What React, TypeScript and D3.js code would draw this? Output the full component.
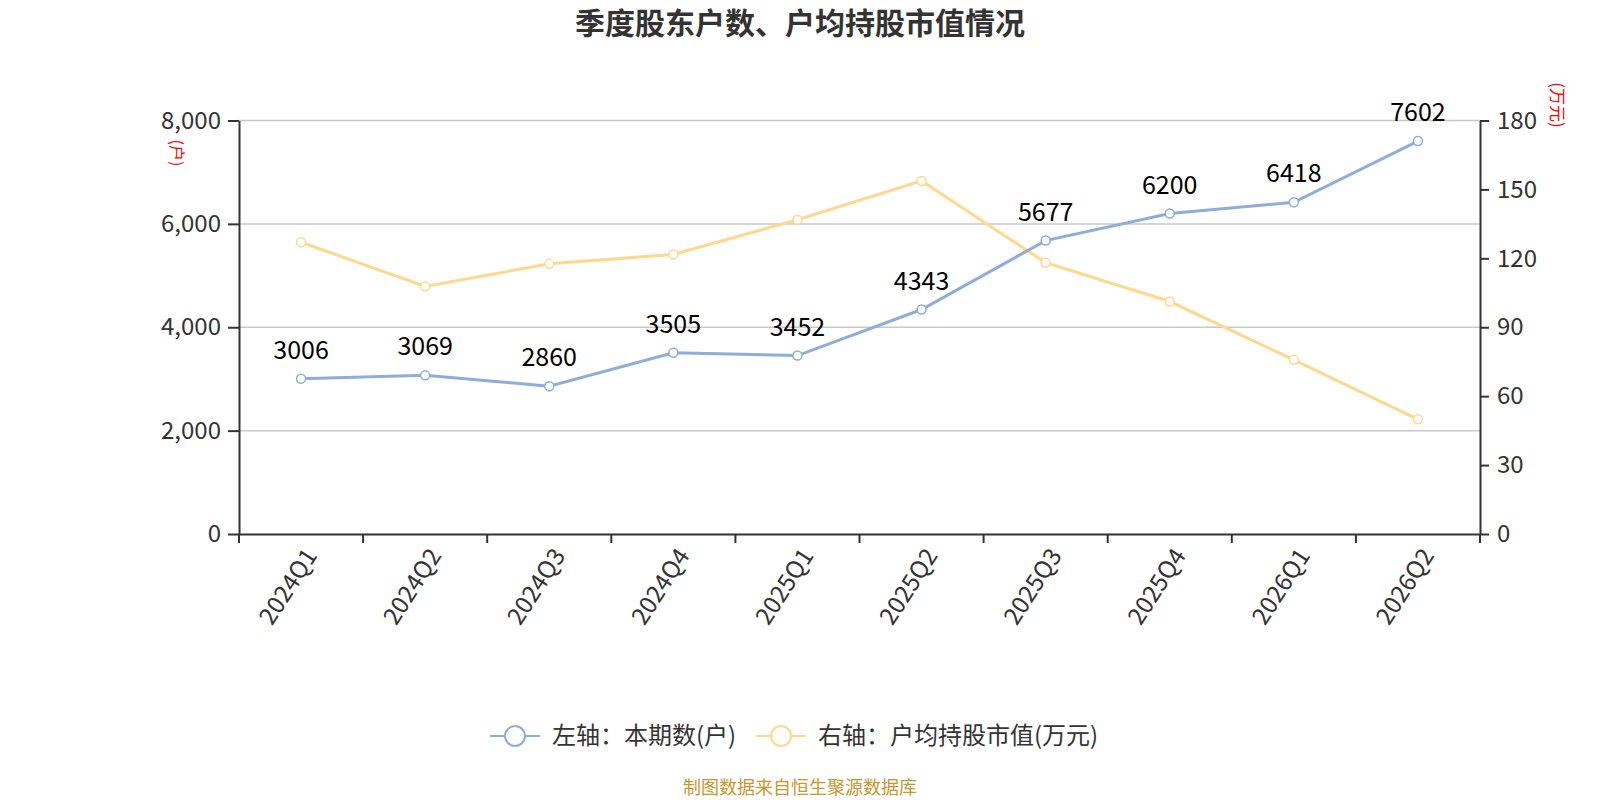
import React, { useEffect, useRef } from 'react';
import * as d3 from 'd3';

const quarters = ['2024Q1', '2024Q2', '2024Q3', '2024Q4', '2025Q1', '2025Q2', '2025Q3', '2025Q4', '2026Q1', '2026Q2'];
const holders = [3006, 3069, 2860, 3505, 3452, 4343, 5677, 6200, 6418, 7602];
const avgValue = [127.0, 107.8, 117.6, 121.7, 136.8, 153.7, 118.1, 101.2, 75.8, 49.9];
const leftTicks = [0, 2000, 4000, 6000, 8000];
const rightTicks = [0, 30, 60, 90, 120, 150, 180];

const BLUE = '#8eaddb';
const YELLOW = '#ffd88e';
const FONT = '"Noto Sans CJK SC", "Noto Sans", sans-serif';

function Chart() {
  const svgRef = useRef(null);

  useEffect(() => {
    const svg = d3.select(svgRef.current);
    svg.selectAll('*').remove();

    const left = 239, right = 1480, top = 120.5, bottom = 534;

    const x = d3.scaleBand().domain(quarters).range([left, right]);
    const yL = d3.scaleLinear().domain([0, 8000]).range([bottom, top]);
    const yR = d3.scaleLinear().domain([0, 180]).range([bottom, top]);
    const cx = (d) => x(d) + x.bandwidth() / 2;

    // title
    svg.append('text')
      .attr('x', 800).attr('y', 34)
      .attr('text-anchor', 'middle')
      .attr('font-size', 30).attr('font-weight', 'bold')
      .attr('fill', '#333').attr('font-family', FONT)
      .text('季度股东户数、户均持股市值情况');

    // grid
    svg.append('g').selectAll('line').data(leftTicks.slice(1)).join('line')
      .attr('x1', left).attr('x2', right)
      .attr('y1', d => yL(d)).attr('y2', d => yL(d))
      .attr('stroke', '#c8c8c8').attr('stroke-width', 1.5);

    // left axis
    const gl = svg.append('g').attr('transform', `translate(${left},0)`)
      .call(d3.axisLeft(yL).tickValues(leftTicks).tickFormat(d3.format(',')).tickSize(11).tickSizeOuter(0));
    gl.select('.domain').attr('stroke', '#333').attr('stroke-width', 2);
    gl.selectAll('.tick line').attr('stroke', '#333').attr('stroke-width', 2);
    gl.selectAll('.tick text').attr('font-size', 24).attr('fill', '#333').attr('font-family', FONT).attr('dx', -4);

    // right axis
    const gr = svg.append('g').attr('transform', `translate(${right},0)`)
      .call(d3.axisRight(yR).tickValues(rightTicks).tickSize(9).tickSizeOuter(0));
    gr.select('.domain').attr('stroke', '#333').attr('stroke-width', 2);
    gr.selectAll('.tick line').attr('stroke', '#333').attr('stroke-width', 2);
    gr.selectAll('.tick text').attr('font-size', 24).attr('fill', '#333').attr('font-family', FONT).attr('dx', 5);

    // x axis
    const gx = svg.append('g').attr('transform', `translate(0,${bottom})`)
      .call(d3.axisBottom(x).tickSize(0));
    gx.select('.domain').attr('stroke', '#333').attr('stroke-width', 2);
    gx.selectAll('.tick line').remove();
    svg.append('g').selectAll('line').data(d3.range(quarters.length + 1)).join('line')
      .attr('x1', i => left + i * x.step()).attr('x2', i => left + i * x.step())
      .attr('y1', bottom).attr('y2', bottom + 9)
      .attr('stroke', '#333').attr('stroke-width', 2);
    gx.selectAll('.tick text')
      .attr('font-size', 24).attr('fill', '#333').attr('font-family', FONT)
      .attr('text-anchor', 'end')
      .attr('transform', 'translate(10,17) rotate(-57)')
      .attr('dy', '0.35em').attr('y', 0);

    // unit labels
    svg.append('text')
      .attr('transform', 'translate(171,153) rotate(90)')
      .attr('text-anchor', 'middle').attr('font-size', 16).attr('fill', 'red').attr('font-family', FONT)
      .text('(户)');
    svg.append('text')
      .attr('transform', 'translate(1551,105) rotate(90)')
      .attr('text-anchor', 'middle').attr('font-size', 17).attr('fill', 'red').attr('font-family', FONT)
      .text('(万元)');

    // lines
    const lineL = d3.line().x((d, i) => cx(quarters[i])).y(d => yL(d));
    const lineR = d3.line().x((d, i) => cx(quarters[i])).y(d => yR(d));

    svg.append('path').datum(avgValue).attr('d', lineR)
      .attr('fill', 'none').attr('stroke', YELLOW).attr('stroke-width', 3);
    svg.append('g').selectAll('circle').data(avgValue).join('circle')
      .attr('cx', (d, i) => cx(quarters[i])).attr('cy', d => yR(d)).attr('r', 4.5)
      .attr('fill', '#fff').attr('stroke', YELLOW).attr('stroke-width', 1.5);

    svg.append('path').datum(holders).attr('d', lineL)
      .attr('fill', 'none').attr('stroke', BLUE).attr('stroke-width', 3);
    svg.append('g').selectAll('circle').data(holders).join('circle')
      .attr('cx', (d, i) => cx(quarters[i])).attr('cy', d => yL(d)).attr('r', 4.5)
      .attr('fill', '#fff').attr('stroke', BLUE).attr('stroke-width', 1.5);

    svg.append('g').selectAll('text').data(holders).join('text')
      .attr('x', (d, i) => cx(quarters[i])).attr('y', d => yL(d) - 20)
      .attr('text-anchor', 'middle').attr('font-size', 25).attr('fill', '#000').attr('font-family', FONT)
      .text(d => d);

    // legend
    const legend = [
      { label: '左轴：本期数(户)', color: BLUE, x: 490 },
      { label: '右轴：户均持股市值(万元)', color: YELLOW, x: 756 },
    ];
    const lg = svg.append('g').selectAll('g').data(legend).join('g')
      .attr('transform', d => `translate(${d.x},736)`);
    lg.append('line').attr('x1', 0).attr('x2', 50).attr('y1', 0).attr('y2', 0)
      .attr('stroke', d => d.color).attr('stroke-width', 2);
    lg.append('circle').attr('cx', 25).attr('cy', 0).attr('r', 10)
      .attr('fill', '#fff').attr('stroke', d => d.color).attr('stroke-width', 2);
    lg.append('text').attr('x', 62).attr('y', 0).attr('dy', '0.35em')
      .attr('font-size', 24).attr('fill', '#333').attr('font-family', FONT)
      .text(d => d.label);

    // footer
    svg.append('text')
      .attr('x', 800).attr('y', 794)
      .attr('text-anchor', 'middle').attr('font-size', 18).attr('fill', '#c9962f').attr('font-family', FONT)
      .text('制图数据来自恒生聚源数据库');
  }, []);

  return <svg ref={svgRef} width={1600} height={800} xmlns="http://www.w3.org/2000/svg" />;
}

function App() {
  return (
    <div style={{ position: 'absolute', left: 0, top: 0, width: 1600, height: 800, background: '#fff' }}>
      <Chart />
    </div>
  );
}

export default App;
